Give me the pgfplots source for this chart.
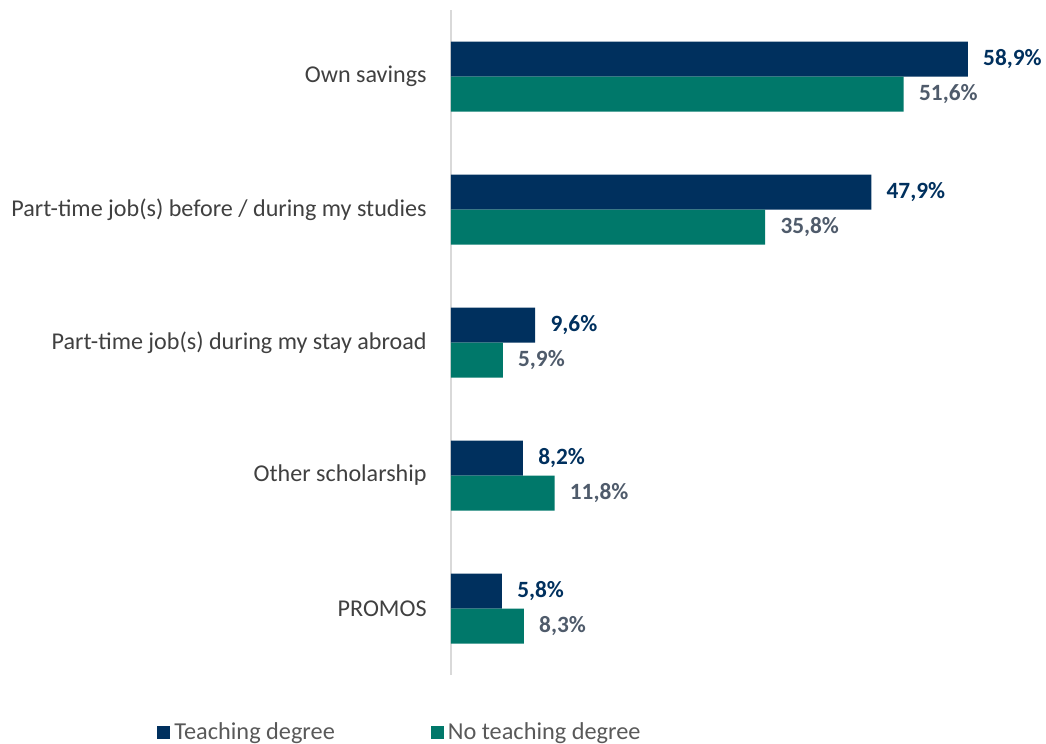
\documentclass[border=0pt]{standalone}
\usepackage{pgfplots}
\pgfplotsset{compat=1.18}
\usepackage{fontspec}
\setmainfont{Carlito}
\definecolor{navy}{HTML}{00305E}
\definecolor{teal2}{HTML}{00786A}
\definecolor{lblgray}{HTML}{4F5B6B}
\definecolor{txtgray}{HTML}{404040}
\definecolor{leggray}{HTML}{595959}
\definecolor{axgray}{HTML}{D9D9D9}
\begin{document}
\begin{tikzpicture}
\begin{axis}[
  at={(0,0)}, anchor=south west,
  scale only axis, width=272bp, height=332.5bp,
  xbar, bar width=17.5bp,
  xmin=0, xmax=62, ymin=-0.5, ymax=4.5, y dir=reverse,
  ytick={0,1,2,3,4},
  yticklabels={Own savings, Part-time job(s) before / during my studies, Part-time job(s) during my stay abroad, Other scholarship, PROMOS},
  hide x axis,
  axis y line*=left,
  y axis line style={axgray, line width=1bp, -},
  major tick length=0pt,
  yticklabel style={font=\fontsize{12.1}{14}\selectfont, text=txtgray, inner sep=0pt, anchor=east, xshift=-12bp},
  point meta=x,
  nodes near coords={\pgfmathprintnumber[fixed,fixed zerofill,precision=1,use comma,assume math mode=true]{\pgfplotspointmeta}\%},
  every node near coord/.append style={font=\bfseries\fontsize{11.7}{14}\selectfont, anchor=west, inner sep=0pt, xshift=7.5bp},
  legend columns=2,
  legend image code/.code={\fill[#1] (0bp,-3.25bp) rectangle (6.5bp,3.25bp);},
  legend style={draw=none, fill=none, font=\fontsize{12.2}{14}\selectfont, text=leggray,
    at={(-0.092,-0.087)}, anchor=center,
    /tikz/every even column/.append style={column sep=46bp}},
]
\addplot[fill=navy, draw=none, bar shift=8.75bp, every node near coord/.append style={text=navy}]
  coordinates {(58.9,0) (47.9,1) (9.6,2) (8.2,3) (5.8,4)};
\addplot[fill=teal2, draw=none, bar shift=-8.75bp, every node near coord/.append style={text=lblgray}]
  coordinates {(51.6,0) (35.8,1) (5.9,2) (11.8,3) (8.3,4)};
\legend{Teaching degree, No teaching degree}
\end{axis}
\pgfresetboundingbox
\path[use as bounding box] (-225.5bp,-34.5bp) rectangle (297.5bp,337.5bp);
\end{tikzpicture}
\end{document}
